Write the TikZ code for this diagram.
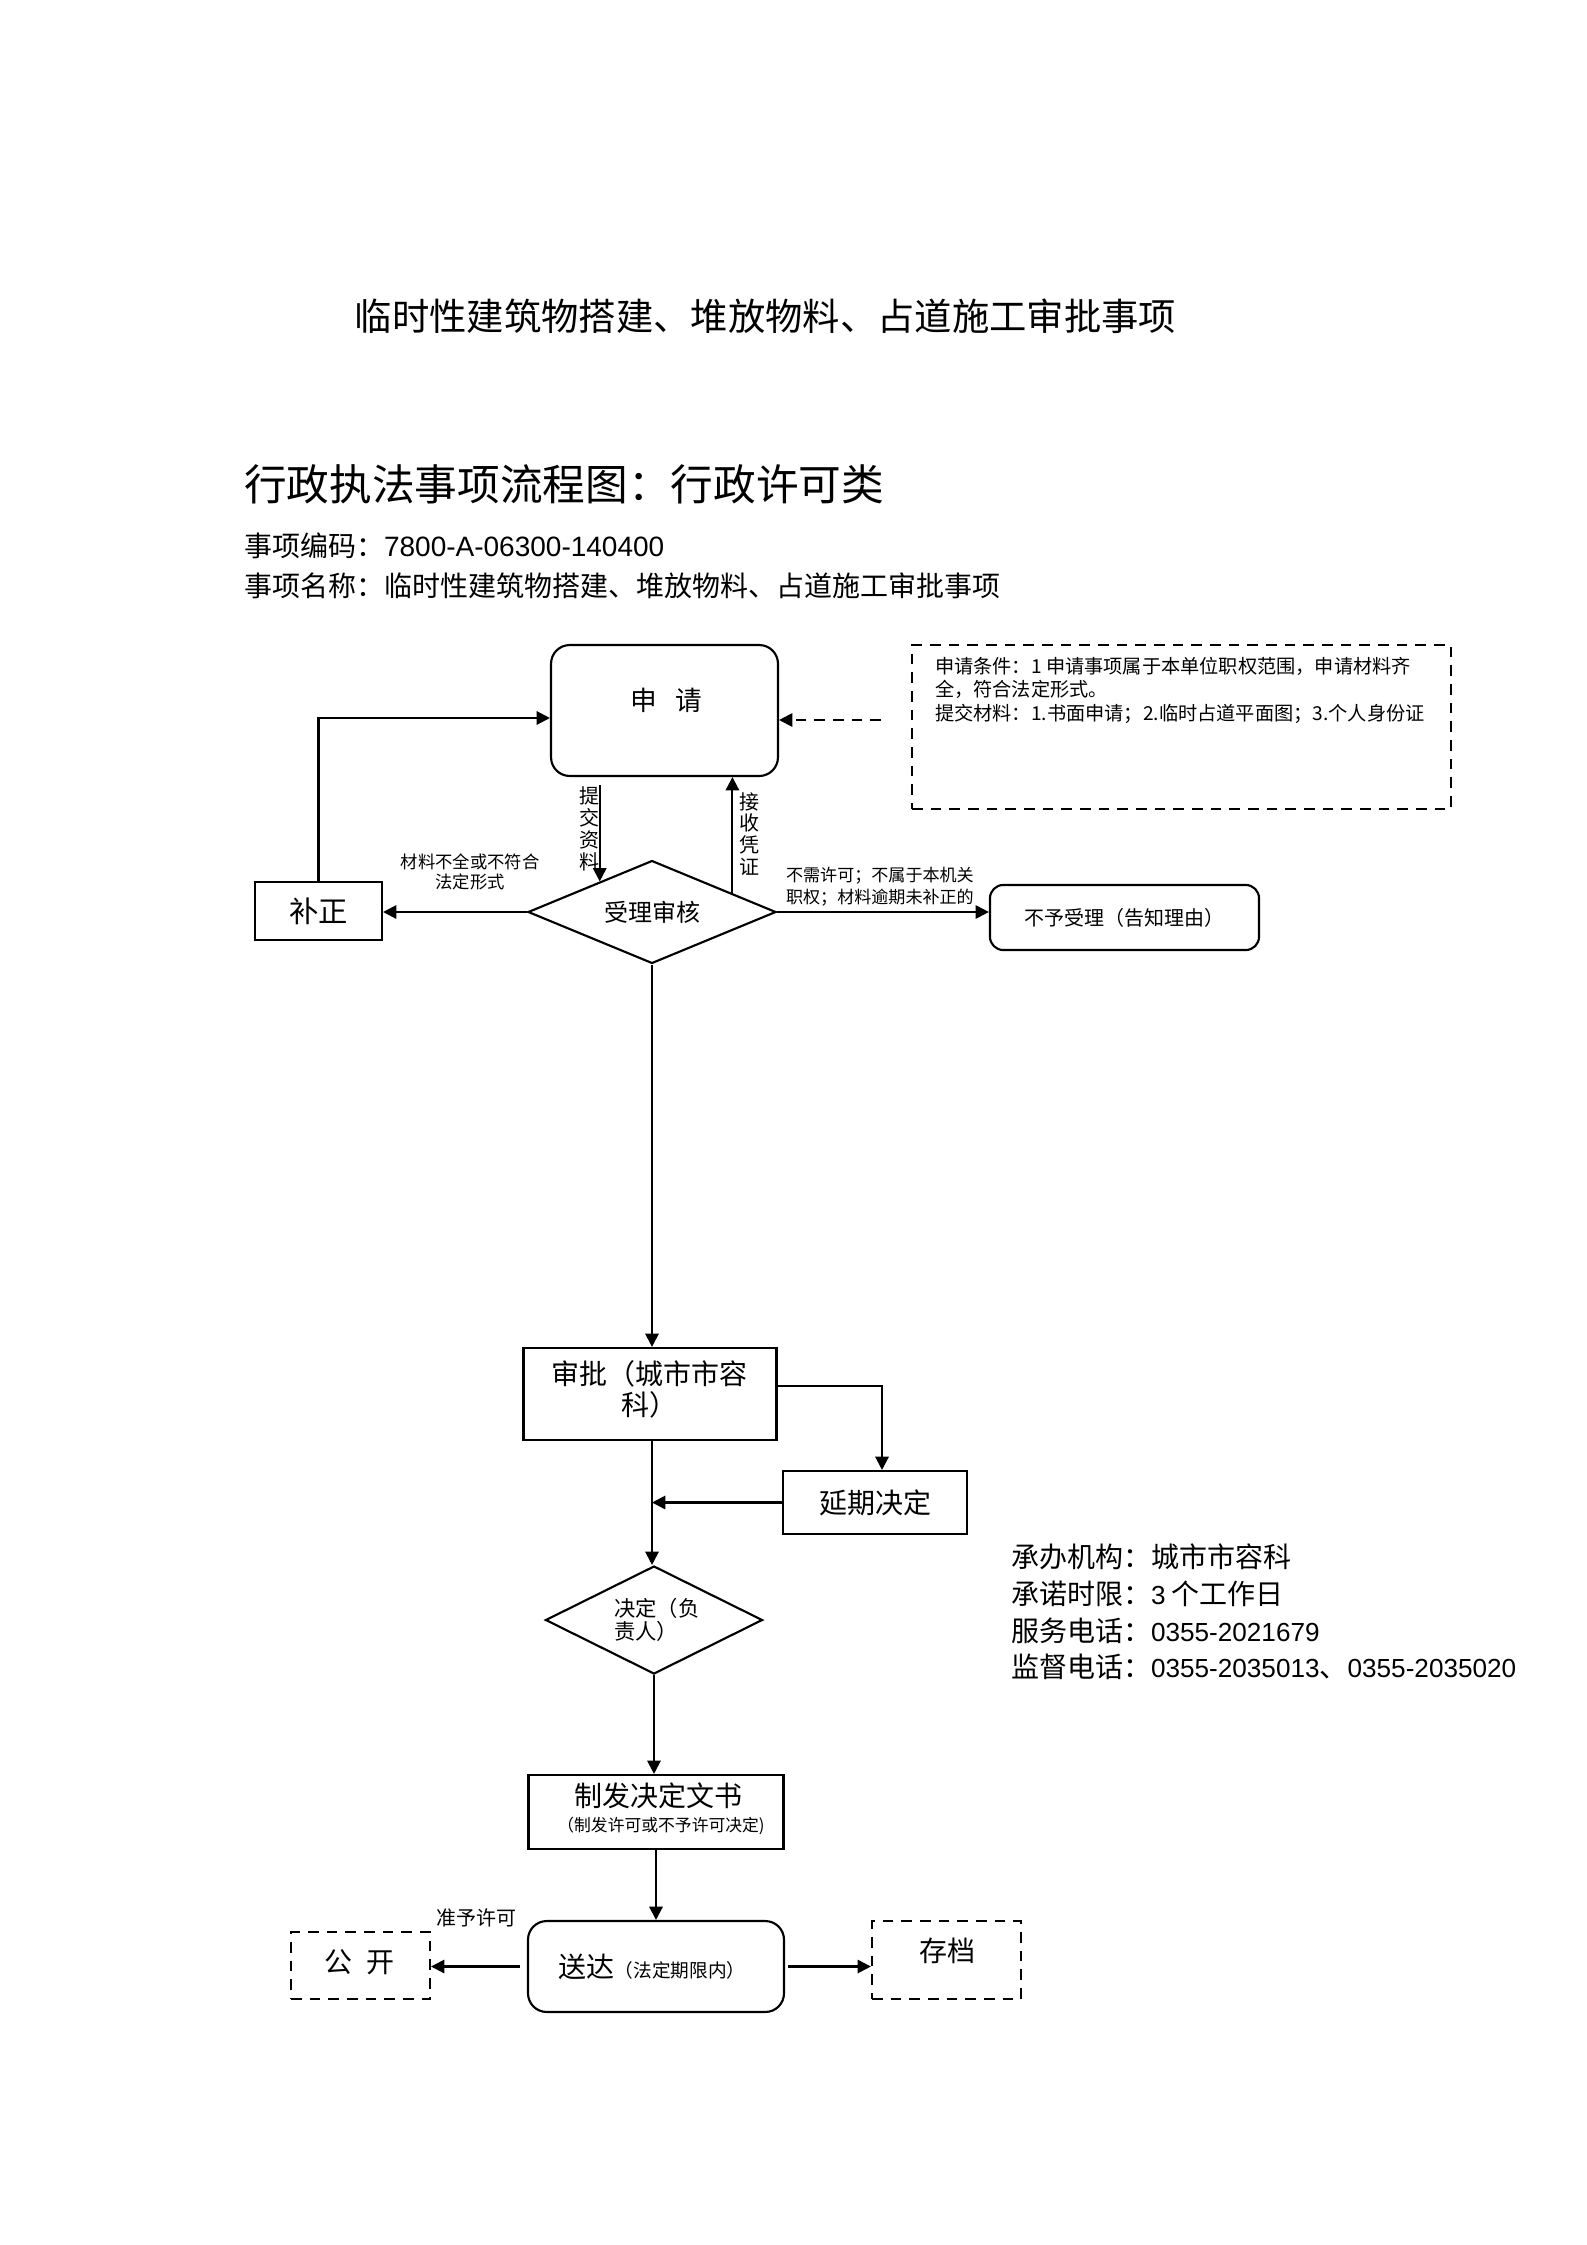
\documentclass[tikz,border=0pt]{standalone}
\usepackage{fontspec}
\setmainfont{Noto Sans CJK SC}
\newfontfamily\digitfont{Liberation Sans}
\usetikzlibrary{arrows.meta,shapes.geometric,calc}
\newcommand{\infonum}[1]{{\digitfont\fontsize{9.8}{13.75}\selectfont #1}}
\begin{document}
\begin{tikzpicture}[x=0.375pt,y=-0.375pt,line width=0.8pt,
  arr/.style={-{Triangle[length=5pt,width=5pt]}},
  sqbox/.style={draw,inner sep=0pt},
  rbox/.style={draw,rounded corners=7pt,inner sep=0pt},
  dbox/.style={draw,dashed,dash pattern=on 4pt off 3pt,inner sep=0pt},
  lbl/.style={inner sep=0pt,align=center},
  f105/.style={font=\fontsize{10.5}{12}\selectfont},
  f75/.style={font=\fontsize{7.5}{8.8}\selectfont},
  f65/.style={font=\fontsize{6.5}{7.6}\selectfont}]
\useasboundingbox[fill=white] (0,0) rectangle (1587,2245);

% headers
\node[lbl,font=\fontsize{14}{16}\selectfont] (title) at (765.5,316.5) {临时性建筑物搭建、堆放物料、占道施工审批事项};
\node[lbl,anchor=west,font=\fontsize{16}{18}\selectfont] (sub) at (243,484) {行政执法事项流程图：行政许可类};
\node[lbl,anchor=west,f105] (code) at (243,546) {事项编码：{\digitfont 7800-A-06300-140400}};
\node[lbl,anchor=west,f105] (name) at (243,586) {事项名称：临时性建筑物搭建、堆放物料、占道施工审批事项};

% apply
\node[rbox,minimum width=85.1pt,minimum height=49.1pt] (apply) at (664.5,710.5) {};
\node[lbl,font=\fontsize{10}{12}\selectfont] (applyt) at (666,700) {申\hspace{0.7em}请};

% conditions
\node[dbox,minimum width=202.1pt,minimum height=61.5pt] (cond) at (1181.5,727) {};
\node[lbl,anchor=north west,align=left,font=\fontsize{7.2}{8.8}\selectfont] (condt) at (934,656) {申请条件：1 申请事项属于本单位职权范围，申请材料齐\\全，符合法定形式。\\提交材料：1.书面申请；2.临时占道平面图；3.个人身份证};
\coordinate (dstart) at (881,720);
\draw[arr,dashed,dash pattern=on 4pt off 3pt] (dstart) -- (dstart -| apply.east);

% check diamond
\node[diamond,draw,shape aspect=2.4,minimum width=93pt,minimum height=38.6pt,inner sep=0pt,font=\fontsize{9}{10}\selectfont] (check) at (652,912) {受理审核};
\coordinate (cin) at ($(check.west)!0.582!(check.north)$);
\coordinate (cout) at ($(check.north)!0.643!(check.east)$);
\draw[arr] ([yshift=-3pt]apply.south -| cin) -- (cin);
\draw[arr] (cout) -- (cout |- apply.south);
\node[lbl,font=\fontsize{7.5}{8.2}\selectfont] (tj) at (589,829) {提\\交\\资\\料};
\node[lbl,font=\fontsize{7.5}{8.2}\selectfont] (js) at (749,834) {接\\收\\凭\\证};

% fix
\node[sqbox,minimum width=47.6pt,minimum height=21.75pt,font=\fontsize{11}{12}\selectfont] (fix) at (318.5,911) {补正};
\draw[arr] (check.west) -- (check.west -| fix.east);
\node[lbl,f65] (fixl) at (470,872) {材料不全或不符合\\法定形式};
\coordinate (loopy) at (0,718);
\draw[arr] (fix.north) -- (fix.north |- loopy) -- (loopy -| apply.west);

% reject
\node[rbox,rounded corners=5pt,minimum width=100.9pt,minimum height=24.4pt,font=\fontsize{7.5}{9}\selectfont] (nb) at (1124.5,917.5) {不予受理（告知理由）};
\draw[arr] (check.east) -- (check.east -| nb.west);
\node[lbl,anchor=north west,align=left,font=\fontsize{6.4}{8.2}\selectfont] (nbl) at (785,866) {不需许可；不属于本机关\\职权；材料逾期未补正的};

% approve
\node[sqbox,minimum width=94.9pt,minimum height=34.5pt] (sp) at (650,1394) {};
\node[lbl,f105,font=\fontsize{10.5}{11.6}\selectfont] (spt) at (649,1389) {审批（城市市容\\科）};
\draw[arr] (check.south) -- (check.south |- sp.north);
\node[sqbox,minimum width=69pt,minimum height=23.6pt,f105] (yq) at (875,1502.5) {延期决定};
\coordinate (spr) at (882,1386);
\draw[arr] (spr -| sp.east) -- (spr) -- (spr |- yq.north);
\draw[arr] (yq.west) -- (yq.west -| check.south);

% decide diamond
\node[diamond,draw,minimum width=81.4pt,minimum height=40.5pt,inner sep=0pt] (jd) at (654,1620) {};
\node[lbl,anchor=north west,align=left,font=\fontsize{8}{8.6}\selectfont] (jdt) at (613,1597) {决定（负\\责人）};
\draw[arr] (check.south |- sp.south) -- (check.south |- jd.north);

% document
\node[sqbox,minimum width=95.6pt,minimum height=27.75pt] (zf) at (656,1812) {};
\node[lbl,f105] (zft) at (658,1796) {制发决定文书};
\node[lbl,font=\fontsize{6.3}{7}\selectfont] (zft2) at (661,1826) {（制发许可或不予许可决定)};
\draw[arr] (jd.south) -- (jd.south |- zf.north);

% deliver
\node[rbox,minimum width=96pt,minimum height=34.1pt] (sd) at (656,1966.5) {};
\node[lbl,f105] (sdt) at (652,1967) {送达{\fontsize{7}{8}\selectfont（法定期限内）}};
\draw[arr] (zf.south) -- (zf.south |- sd.north);

\node[dbox,minimum width=52.1pt,minimum height=25.1pt] (gk) at (360.5,1965.5) {};
\node[lbl,font=\fontsize{10.5}{12}\selectfont] (gkt) at (359,1962) {公\hspace{0.5em}开};
\draw[arr] ([xshift=-2.6pt]sd.west) -- (sd.west -| gk.east);
\node[lbl,font=\fontsize{7.5}{9}\selectfont] (zy) at (476,1918) {准予许可};

\node[dbox,minimum width=55.9pt,minimum height=29.25pt] (cd) at (946.5,1960) {};
\node[lbl,f105] (cdt) at (947,1951) {存档};
\draw[arr] ([xshift=1.2pt]sd.east) -- (sd.east -| cd.west);

% info
\node[lbl,anchor=north west,align=left,font=\fontsize{10.5}{13.75}\selectfont] (info) at (1010,1543) {承办机构：城市市容科\\承诺时限：\infonum{3} 个工作日\\服务电话：\infonum{0355-2021679}\\监督电话：\infonum{0355-2035013}、\infonum{0355-2035020}};
\end{tikzpicture}
\end{document}
